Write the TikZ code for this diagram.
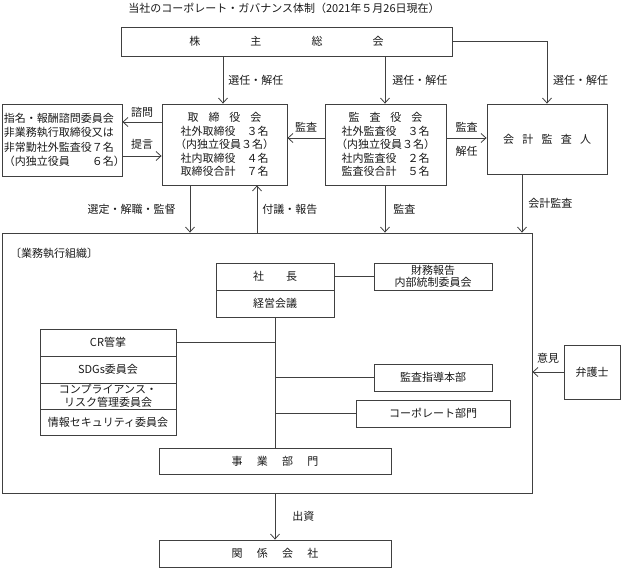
\documentclass[tikz,border=0pt]{standalone}
\usepackage{fontspec}
\setmainfont{Noto Sans CJK JP}
\usetikzlibrary{arrows.meta,calc}
\begin{document}
\begin{tikzpicture}[x=1pt,y=-1pt,
  every node/.style={font=\fontsize{11}{13.5}\selectfont, text=black!90},
  box/.style={draw=black!75, line width=0.8pt, inner sep=0pt, align=center},
  ln/.style={draw=black!75, line width=0.8pt},
  arr/.style={ln, -{Straight Barb[length=5pt,width=9pt]}},
  lbl/.style={inner sep=0pt, font=\fontsize{11}{13}\selectfont}]
\useasboundingbox (0,0) rectangle (621,568);

% title
\node[lbl] (title) at (284,8) {当社のコーポレート・ガバナンス体制（2021年５月26日現在）};

% top boxes
\node[box, minimum width=331, minimum height=29] (gm) at (286.5,41.5)
  {株\hspace{4.55em}主\hspace{4.55em}総\hspace{4.55em}会};
\node[box, minimum width=120, minimum height=72, text width=116, align=left,
  font=\fontsize{11}{14.5}\selectfont] (nm) at (62,140)
  {指名・報酬諮問委員会\\非業務執行取締役又は\\非常勤社外監査役７名\\（内独立役員　　６名）};
\node[box, minimum width=125, minimum height=81] (tb) at (224.5,144.5)
  {取\hspace{0.9em}締\hspace{0.9em}役\hspace{0.9em}会\\社外取締役　３名\\（内独立役員３名）\\社内取締役　４名\\取締役合計　７名};
\node[box, minimum width=121, minimum height=81] (ka) at (385.5,144.5)
  {監\hspace{0.9em}査\hspace{0.9em}役\hspace{0.9em}会\\社外監査役　３名\\（内独立役員３名）\\社内監査役　２名\\監査役合計　５名};
\node[box, minimum width=120, minimum height=70] (ak) at (547,139)
  {会\hspace{0.75em}計\hspace{0.75em}監\hspace{0.75em}査\hspace{0.75em}人};

% execution organisation
\node[box, minimum width=530, minimum height=260] (ex) at (267,363) {};
\node[lbl, anchor=west] (exl) at (10,253) {〔業務執行組織〕};

\node[box, minimum width=118, minimum height=27] (pr) at (275,276.5) {社\hspace{2em}長};
\node[box, minimum width=118, minimum height=27] (km) at (275,303.5) {経営会議};
\node[box, minimum width=118, minimum height=27, font=\fontsize{11}{12.5}\selectfont] (fr) at (433,276.5)
  {財務報告\\内部統制委員会};

\node[box, minimum width=136, minimum height=27] (cr1) at (108,342.5) {CR管掌};
\node[box, minimum width=136, minimum height=27] (cr2) at (108,369.5) {SDGs委員会};
\node[box, minimum width=136, minimum height=26, font=\fontsize{11}{12.5}\selectfont] (cr3) at (108,396)
  {コンプライアンス・\\リスク管理委員会};
\node[box, minimum width=136, minimum height=26] (cr4) at (108,422) {情報セキュリティ委員会};

\node[box, minimum width=118, minimum height=27] (ks) at (433,377.5) {監査指導本部};
\node[box, minimum width=154, minimum height=27] (cp) at (433,413.5) {コーポレート部門};
\node[box, minimum width=56, minimum height=54] (bg) at (592,372) {弁護士};

\node[box, minimum width=232, minimum height=26] (jb) at (275,461)
  {事\hspace{1.3em}業\hspace{1.3em}部\hspace{1.3em}門};
\node[box, minimum width=232, minimum height=27] (kk) at (275,553.5)
  {関\hspace{1.3em}係\hspace{1.3em}会\hspace{1.3em}社};

% helper coordinates
\coordinate (c1) at (223,0);
\coordinate (c2) at (385,0);
\coordinate (c4) at (190,0);
\coordinate (c5) at (257,0);
\coordinate (c6) at (522,0);
\coordinate (y1) at (0,122);
\coordinate (y2) at (0,156);
\coordinate (y3) at (0,138);

% connectors top
\draw[arr] (c1 |- gm.south) -- (c1 |- tb.north) node[lbl, midway, right=5pt] {選任・解任};
\draw[arr] (c2 |- gm.south) -- (c2 |- ka.north) node[lbl, midway, right=7pt] {選任・解任};
\draw[arr] (gm.east) -| (ak.north);
\path (ak.north) ++(6,-23) node[lbl, anchor=west] {選任・解任};

\draw[arr] (tb.west |- y1) -- (nm.east |- y1) node[lbl, midway, above=4pt] {諮問};
\draw[arr] (nm.east |- y2) -- (tb.west |- y2) node[lbl, midway, above=6pt] {提言};
\draw[arr] (ka.west |- y3) -- (tb.east |- y3) node[lbl, midway, above=5pt] {監査};
\draw[arr] (ka.east |- y3) -- (ak.west |- y3)
  node[lbl, midway, above=5pt] {監査} node[lbl, midway, below=8pt] {解任};

% connectors to execution
\draw[arr] (c4 |- tb.south) -- (c4 |- ex.north) node[lbl, midway, left=14pt] {選定・解職・監督};
\draw[arr] (c5 |- ex.north) -- (c5 |- tb.south) node[lbl, midway, right=5pt] {付議・報告};
\draw[arr] (c2 |- ka.south) -- (c2 |- ex.north) node[lbl, midway, right=8pt] {監査};
\draw[arr] (c6 |- ak.south) -- (c6 |- ex.north) node[lbl, midway, right=6pt] {会計監査};

% inside execution
\draw[ln] (pr.east) -- (fr.west);
\draw[ln] (km.south) -- (jb.north);
\draw[ln] (cr1.east) -- (cr1.east -| km.south);
\draw[ln] (ks.west -| km.south) -- (ks.west);
\draw[ln] (cp.west -| km.south) -- (cp.west);
\draw[arr] (bg.west) -- (bg.west -| ex.east) node[lbl, midway, above=8pt] {意見};
\draw[arr] (jb.south |- ex.south) -- (kk.north) node[lbl, midway, right=17pt] {出資};
\end{tikzpicture}
\end{document}
